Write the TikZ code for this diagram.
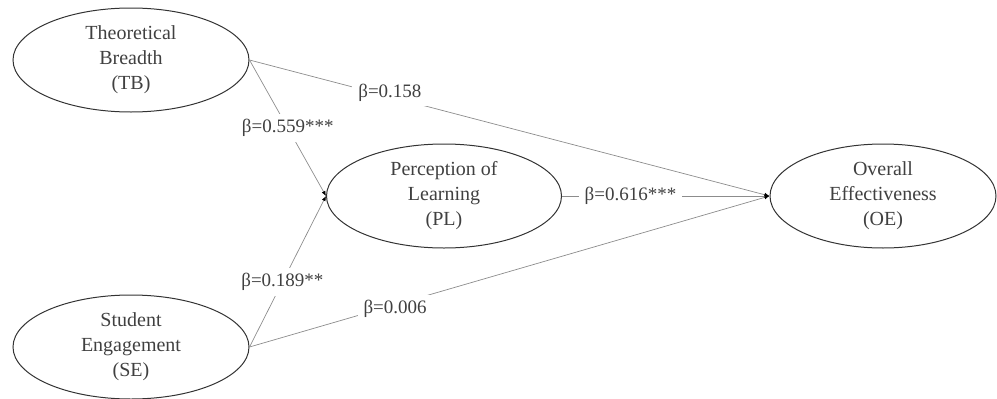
\documentclass[tikz,border=0pt]{standalone}
\usepackage{fontspec}
\setmainfont{Liberation Serif}
\usetikzlibrary{arrows.meta,shapes.geometric}

\begin{document}
\begin{tikzpicture}[x=1pt,y=-1pt,
    construct/.style={ellipse,draw=black!80,line width=1pt,inner sep=0pt,
        minimum height=104pt,align=center,text=black!75,
        font=\fontsize{20}{25}\selectfont},
    link/.style={draw=black!45,line width=0.7pt,-{Latex[color=black,length=5pt,width=4pt]}},
    coef/.style={fill=white,inner xsep=6pt,inner ysep=5pt,text=black!75,font=\fontsize{19}{20}\selectfont}]
                \useasboundingbox (0,0) rectangle (997,399);

                \node[construct,minimum width=236pt] (tb) at (131,60) {Theoretical\\Breadth\\(TB)};
                \node[construct,minimum width=236pt] (se) at (131,347) {Student\\Engagement\\(SE)};
                \node[construct,minimum width=235pt] (pl) at (444,196) {Perception of\\Learning\\(PL)};
                \node[construct,minimum width=226pt] (oe) at (883,196) {Overall\\Effectiveness\\(OE)};

                \draw[link] (tb.east) -- node[coef,pos=0.5] {β=0.559***} (pl.west);
                \draw[link] (se.east) -- node[coef,pos=0.43] {β=0.189**} (pl.west);
                \draw[link] (tb.east) -- node[coef,pos=0.27,yshift=4pt] {β=0.158} (oe.west);
                \draw[link] (se.east) -- node[coef,pos=0.28,yshift=-4pt] {β=0.006} (oe.west);
                \draw[link] (pl.east) -- node[coef,pos=0.33] {β=0.616***} (oe.west);
            \end{tikzpicture}
\end{document}
